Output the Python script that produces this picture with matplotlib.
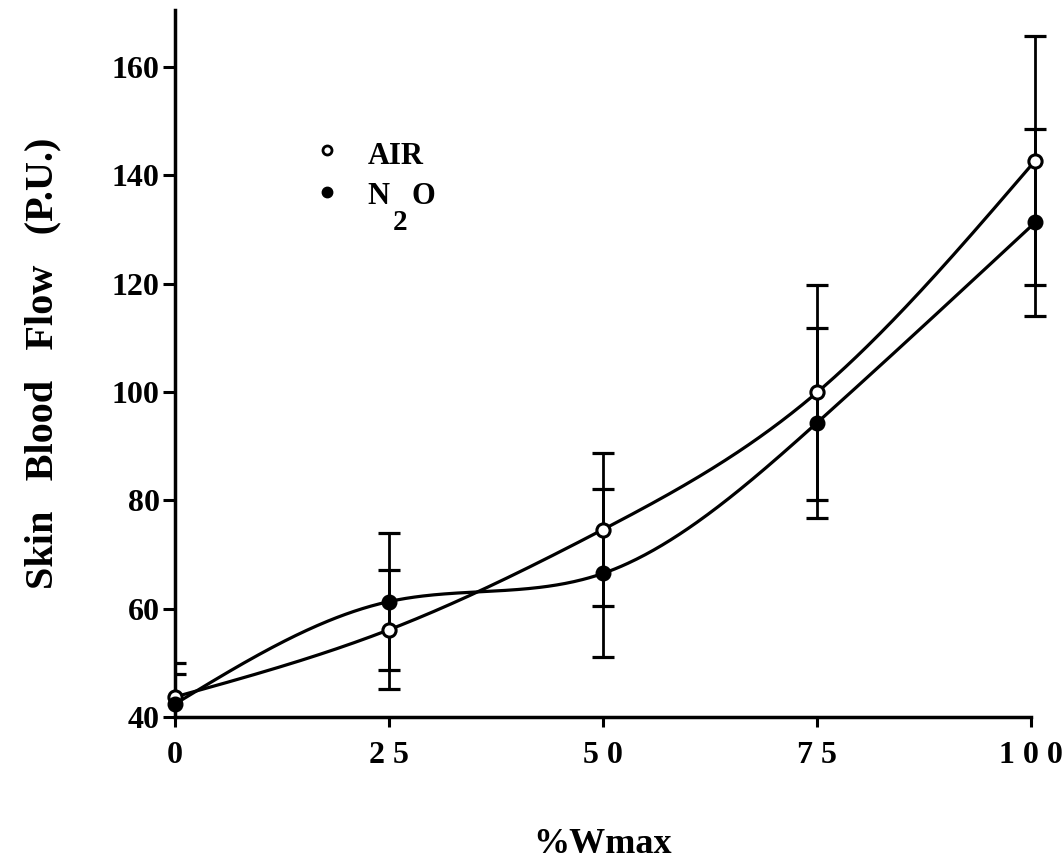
import numpy as np
import matplotlib.pyplot as plt
from matplotlib.patches import Rectangle

# skin blood flow vs exercise intensity, mean +/- SEM
pct_wmax = [0, 25, 50, 75, 100.5]
air_mean = [43.7, 56.1, 74.6, 99.9, 142.7]
air_sem = [6.2, 11.0, 14.2, 19.9, 23.0]
n2o_mean = [42.4, 61.3, 66.5, 94.3, 131.3]
n2o_sem = [5.6, 12.6, 15.5, 17.5, 17.2]

x_ticks = [0, 25, 50, 75, 100]
x_tick_labels = ['0', '2 5', '5 0', '7 5', '1 0 0']
y_ticks = [40, 60, 80, 100, 120, 140, 160]

plt.rcParams['font.family'] = ['Liberation Serif', 'DejaVu Serif']


def natural_spline(x, y, n=400):
    # natural cubic spline through the points, for the smooth fitted curve
    x = np.asarray(x, float)
    y = np.asarray(y, float)
    k = len(x)
    h = np.diff(x)
    A = np.zeros((k, k))
    b = np.zeros(k)
    A[0, 0] = A[-1, -1] = 1
    for i in range(1, k - 1):
        A[i, i - 1] = h[i - 1]
        A[i, i] = 2 * (h[i - 1] + h[i])
        A[i, i + 1] = h[i]
        b[i] = 3 * ((y[i + 1] - y[i]) / h[i] - (y[i] - y[i - 1]) / h[i - 1])
    c = np.linalg.solve(A, b)
    xs = np.linspace(x[0], x[-1], n)
    idx = np.clip(np.searchsorted(x, xs) - 1, 0, k - 2)
    dx = xs - x[idx]
    bb = (y[1:] - y[:-1]) / h - h * (2 * c[:-1] + c[1:]) / 3
    dd = (c[1:] - c[:-1]) / (3 * h)
    ys = y[idx] + bb[idx] * dx + c[idx] * dx ** 2 + dd[idx] * dx ** 3
    return xs, ys


fig = plt.figure(figsize=(10.62, 8.68), dpi=100)
ax = fig.add_axes([0.1648, 0.174, 0.806, 0.8145])

# let the error bars run past the right end of the axis, but not below it
clip_rect = Rectangle((0, 0), 1.1, 1.1, transform=ax.transAxes)

for mean, sem in [(air_mean, air_sem), (n2o_mean, n2o_sem)]:
    xs, ys = natural_spline(pct_wmax, mean)
    ax.plot(xs, ys, color='black', lw=2.3, clip_on=False, zorder=2)
    eb = ax.errorbar(pct_wmax, mean, yerr=sem, fmt='none', ecolor='black',
                     elinewidth=2.0, capsize=8, capthick=2.3, zorder=3)
    for art in list(eb[1]) + list(eb[2]):
        art.set_clip_path(clip_rect)

ax.plot(pct_wmax, air_mean, 'o', ms=9.5, mfc='white', mec='black', mew=2.2,
        clip_on=False, zorder=4)
ax.plot(pct_wmax, n2o_mean, 'o', ms=10.5, mfc='black', mec='black',
        clip_on=False, zorder=4)

# key, drawn as free text
ax.plot([17.8], [144.6], 'o', ms=6.5, mfc='white', mec='black', mew=2)
ax.plot([17.8], [136.9], 'o', ms=7.5, mfc='black', mec='black')
ax.text(22.5, 142.0, 'AIR', fontsize=22, fontweight='bold', va='baseline')
t_n = ax.text(22.5, 134.6, 'N', fontsize=22, fontweight='bold',
              va='baseline')
t_2 = ax.annotate('2', xy=(1, 0), xycoords=t_n, xytext=(2, -18),
                  textcoords='offset points', fontsize=21,
                  fontweight='bold', va='bottom', ha='left')
ax.annotate('O', xy=(1, 0), xycoords=(t_2, t_n), xytext=(3, 0),
            textcoords='offset points', fontsize=22, fontweight='bold',
            va='bottom', ha='left')

ax.set_xlim(0, 100)
ax.set_ylim(40, 170.5)
ax.set_xticks(x_ticks)
ax.set_xticklabels(x_tick_labels)
ax.set_yticks(y_ticks)
for lab in ax.get_xticklabels() + ax.get_yticklabels():
    lab.set_fontsize(23)
    lab.set_fontweight('bold')

ax.spines['top'].set_visible(False)
ax.spines['right'].set_visible(False)
ax.spines['left'].set_linewidth(2.5)
ax.spines['bottom'].set_linewidth(2.5)
ax.tick_params(axis='y', direction='out', length=9, width=2.2, pad=2)
ax.tick_params(axis='x', direction='out', length=7, width=2.2, pad=10)

ax.set_ylabel('Skin   Blood   Flow   (P.U.)', fontsize=29, fontweight='bold',
              labelpad=36)
ax.set_xlabel('%Wmax', fontsize=26, fontweight='bold', labelpad=42)

fig.savefig('out.png', dpi=100)
